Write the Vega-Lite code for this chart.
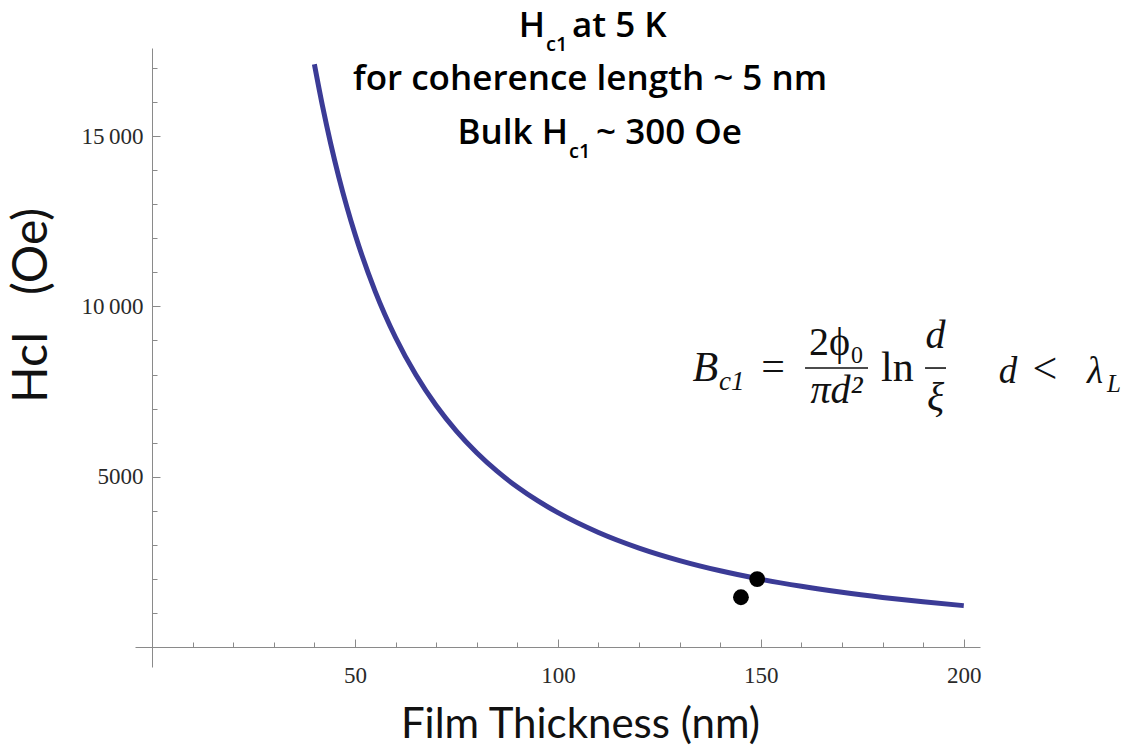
{
  "$schema": "https://vega.github.io/schema/vega-lite/v6.json",
  "width": 845,
  "height": 619,
  "autosize": {"type": "none"},
  "padding": {"left": 135, "top": 48, "right": 164, "bottom": 89},
  "background": "white",
  "data": {"values": [{}]},
  "config": {
    "view": {"stroke": null},
    "axis": {
      "grid": false,
      "domainColor": "#8a8a8a",
      "domainWidth": 1,
      "tickColor": "#8a8a8a",
      "tickWidth": 1,
      "labelFont": "Liberation Serif",
      "labelFontSize": 23,
      "labelColor": "#2a2a2a",
      "labelOverlap": false,
      "labelFlush": false,
      "titleFont": "Lato",
      "titleFontWeight": "normal",
      "titleColor": "#111111"
    }
  },
  "datasets": {
    "curve": [
      {"thickness_nm": 40, "hc1_oe": 17108},
      {"thickness_nm": 42, "hc1_oe": 15882},
      {"thickness_nm": 44, "hc1_oe": 14788},
      {"thickness_nm": 46, "hc1_oe": 13806},
      {"thickness_nm": 48, "hc1_oe": 12923},
      {"thickness_nm": 50, "hc1_oe": 12125},
      {"thickness_nm": 55, "hc1_oe": 10435},
      {"thickness_nm": 60, "hc1_oe": 9087},
      {"thickness_nm": 65, "hc1_oe": 7992},
      {"thickness_nm": 70, "hc1_oe": 7090},
      {"thickness_nm": 75, "hc1_oe": 6338},
      {"thickness_nm": 80, "hc1_oe": 5703},
      {"thickness_nm": 85, "hc1_oe": 5162},
      {"thickness_nm": 90, "hc1_oe": 4697},
      {"thickness_nm": 95, "hc1_oe": 4295},
      {"thickness_nm": 100, "hc1_oe": 3944},
      {"thickness_nm": 110, "hc1_oe": 3363},
      {"thickness_nm": 120, "hc1_oe": 2905},
      {"thickness_nm": 130, "hc1_oe": 2538},
      {"thickness_nm": 140, "hc1_oe": 2238},
      {"thickness_nm": 150, "hc1_oe": 1990},
      {"thickness_nm": 160, "hc1_oe": 1782},
      {"thickness_nm": 170, "hc1_oe": 1606},
      {"thickness_nm": 180, "hc1_oe": 1456},
      {"thickness_nm": 190, "hc1_oe": 1326},
      {"thickness_nm": 200, "hc1_oe": 1214}
    ],
    "measured": [
      {"thickness_nm": 145.1, "hc1_oe": 1460},
      {"thickness_nm": 149.1, "hc1_oe": 1995}
    ]
  },
  "resolve": {"axis": {"x": "independent", "y": "independent"}},
  "layer": [
    {
      "data": {"name": "curve"},
      "mark": {"type": "line", "color": "#3b3b96", "strokeWidth": 5, "interpolate": "monotone", "strokeCap": "butt"},
      "encoding": {
        "x": {
          "field": "thickness_nm",
          "type": "quantitative",
          "scale": {"domain": [-4.2, 204], "nice": false, "zero": false},
          "axis": {
            "title": "Film Thickness (nm)",
            "orient": "bottom",
            "offset": -20,
            "values": [50, 100, 150, 200],
            "tickSize": -8,
            "labelPadding": 25,
            "titleFontSize": 42,
            "titleX": 445,
            "titleY": 90,
            "titleAlign": "center",
            "titleBaseline": "alphabetic"
          }
        },
        "y": {
          "field": "hc1_oe",
          "type": "quantitative",
          "scale": {"domain": [-587, 17587], "nice": false, "zero": false},
          "axis": {
            "title": "HcI\u2003(Oe)",
            "orient": "left",
            "offset": -17,
            "values": [5000, 10000, 15000],
            "labelExpr": "datum.value === 5000 ? '5000' : datum.value === 10000 ? '10\u2009000' : '15\u2009000'",
            "tickSize": -8,
            "labelPadding": 17,
            "titleFontSize": 48,
            "titleX": -106,
            "titleY": 257,
            "titleAngle": -90,
            "titleAlign": "center",
            "titleBaseline": "alphabetic"
          }
        }
      }
    },
    {
      "data": {"name": "measured"},
      "mark": {"type": "point", "filled": true, "color": "#000000", "size": 250, "opacity": 1},
      "encoding": {
        "x": {
          "field": "thickness_nm",
          "type": "quantitative",
          "axis": {
            "title": null,
            "orient": "bottom",
            "offset": -20,
            "domain": false,
            "labels": false,
            "values": [10, 20, 30, 40, 60, 70, 80, 90, 110, 120, 130, 140, 160, 170, 180, 190],
            "tickSize": -5
          }
        },
        "y": {
          "field": "hc1_oe",
          "type": "quantitative",
          "axis": {
            "title": null,
            "orient": "left",
            "offset": -17,
            "domain": false,
            "labels": false,
            "values": [1000, 2000, 3000, 4000, 6000, 7000, 8000, 9000, 11000, 12000, 13000, 14000, 16000, 17000],
            "tickSize": -5
          }
        }
      }
    },
    {
      "mark": {"type": "text", "text": "H", "font": "Open Sans", "fontWeight": 600, "fontSize": 35, "align": "right", "baseline": "alphabetic", "color": "#000000"},
      "encoding": {"x": {"datum": 96.83, "type": "quantitative", "axis": null}, "y": {"datum": 17910, "type": "quantitative", "axis": null}}
    },
    {
      "mark": {"type": "text", "text": "c1", "font": "Open Sans", "fontWeight": 600, "fontSize": 20, "align": "left", "baseline": "alphabetic", "color": "#000000"},
      "encoding": {"x": {"datum": 97.08, "type": "quantitative", "axis": null}, "y": {"datum": 17499, "type": "quantitative", "axis": null}}
    },
    {
      "mark": {"type": "text", "text": "at 5 K", "font": "Open Sans", "fontWeight": 600, "fontSize": 35, "align": "left", "baseline": "alphabetic", "color": "#000000"},
      "encoding": {"x": {"datum": 103.48, "type": "quantitative", "axis": null}, "y": {"datum": 17910, "type": "quantitative", "axis": null}}
    },
    {
      "mark": {"type": "text", "text": "for coherence length ~ 5 nm", "font": "Open Sans", "fontWeight": 600, "fontSize": 35, "align": "center", "baseline": "alphabetic", "color": "#000000"},
      "encoding": {"x": {"datum": 107.92, "type": "quantitative", "axis": null}, "y": {"datum": 16354, "type": "quantitative", "axis": null}}
    },
    {
      "mark": {"type": "text", "text": "Bulk H", "font": "Open Sans", "fontWeight": 600, "fontSize": 35, "align": "right", "baseline": "alphabetic", "color": "#000000"},
      "encoding": {"x": {"datum": 102.5, "type": "quantitative", "axis": null}, "y": {"datum": 14768, "type": "quantitative", "axis": null}}
    },
    {
      "mark": {"type": "text", "text": "c1", "font": "Open Sans", "fontWeight": 600, "fontSize": 20, "align": "left", "baseline": "alphabetic", "color": "#000000"},
      "encoding": {"x": {"datum": 102.74, "type": "quantitative", "axis": null}, "y": {"datum": 14357, "type": "quantitative", "axis": null}}
    },
    {
      "mark": {"type": "text", "text": "~ 300 Oe", "font": "Open Sans", "fontWeight": 600, "fontSize": 35, "align": "left", "baseline": "alphabetic", "color": "#000000"},
      "encoding": {"x": {"datum": 109.4, "type": "quantitative", "axis": null}, "y": {"datum": 14768, "type": "quantitative", "axis": null}}
    },
    {
      "mark": {"type": "text", "text": "B", "font": "Liberation Serif", "fontStyle": "italic", "fontSize": 42, "align": "right", "baseline": "alphabetic", "color": "#111111"},
      "encoding": {"x": {"datum": 139.46, "type": "quantitative", "axis": null}, "y": {"datum": 7810, "type": "quantitative", "axis": null}}
    },
    {
      "mark": {"type": "text", "text": "c1", "font": "Liberation Serif", "fontStyle": "italic", "fontSize": 27, "align": "left", "baseline": "alphabetic", "color": "#111111"},
      "encoding": {"x": {"datum": 139.7, "type": "quantitative", "axis": null}, "y": {"datum": 7546, "type": "quantitative", "axis": null}}
    },
    {
      "mark": {"type": "text", "text": "=", "font": "Liberation Serif", "fontSize": 42, "align": "center", "baseline": "alphabetic", "color": "#111111"},
      "encoding": {"x": {"datum": 153.01, "type": "quantitative", "axis": null}, "y": {"datum": 7839, "type": "quantitative", "axis": null}}
    },
    {
      "mark": {"type": "text", "text": "2ϕ₀", "font": "Liberation Serif", "fontSize": 40, "align": "center", "baseline": "alphabetic", "color": "#111111"},
      "encoding": {"x": {"datum": 168.66, "type": "quantitative", "axis": null}, "y": {"datum": 8573, "type": "quantitative", "axis": null}}
    },
    {
      "mark": {"type": "rule", "color": "#111111", "strokeWidth": 1.6},
      "encoding": {
        "x": {"datum": 160.89, "type": "quantitative", "axis": null},
        "x2": {"datum": 176.41},
        "y": {"datum": 8191, "type": "quantitative", "axis": null}
      }
    },
    {
      "mark": {"type": "text", "text": "πd²", "font": "Liberation Serif", "fontStyle": "italic", "fontSize": 40, "align": "center", "baseline": "alphabetic", "color": "#111111"},
      "encoding": {"x": {"datum": 168.66, "type": "quantitative", "axis": null}, "y": {"datum": 7164, "type": "quantitative", "axis": null}}
    },
    {
      "mark": {"type": "text", "text": "ln", "font": "Liberation Serif", "fontSize": 42, "align": "left", "baseline": "alphabetic", "color": "#111111"},
      "encoding": {"x": {"datum": 179.62, "type": "quantitative", "axis": null}, "y": {"datum": 7810, "type": "quantitative", "axis": null}}
    },
    {
      "mark": {"type": "text", "text": "d", "font": "Liberation Serif", "fontStyle": "italic", "fontSize": 40, "align": "center", "baseline": "alphabetic", "color": "#111111"},
      "encoding": {"x": {"datum": 193.05, "type": "quantitative", "axis": null}, "y": {"datum": 8779, "type": "quantitative", "axis": null}}
    },
    {
      "mark": {"type": "rule", "color": "#111111", "strokeWidth": 1.6},
      "encoding": {
        "x": {"datum": 190.46, "type": "quantitative", "axis": null},
        "x2": {"datum": 195.63},
        "y": {"datum": 8191, "type": "quantitative", "axis": null}
      }
    },
    {
      "mark": {"type": "text", "text": "ξ", "font": "Liberation Serif", "fontStyle": "italic", "fontSize": 40, "align": "center", "baseline": "alphabetic", "color": "#111111"},
      "encoding": {"x": {"datum": 193.05, "type": "quantitative", "axis": null}, "y": {"datum": 6958, "type": "quantitative", "axis": null}}
    },
    {
      "mark": {"type": "text", "text": "d", "font": "Liberation Serif", "fontStyle": "italic", "fontSize": 37, "align": "center", "baseline": "alphabetic", "color": "#111111"},
      "encoding": {"x": {"datum": 210.91, "type": "quantitative", "axis": null}, "y": {"datum": 7751, "type": "quantitative", "axis": null}}
    },
    {
      "mark": {"type": "text", "text": "<", "font": "Liberation Serif", "fontSize": 44, "align": "center", "baseline": "alphabetic", "color": "#111111"},
      "encoding": {"x": {"datum": 220.02, "type": "quantitative", "axis": null}, "y": {"datum": 7751, "type": "quantitative", "axis": null}}
    },
    {
      "mark": {"type": "text", "text": "λ", "font": "Liberation Serif", "fontStyle": "italic", "fontSize": 37, "align": "center", "baseline": "alphabetic", "color": "#111111"},
      "encoding": {"x": {"datum": 232.35, "type": "quantitative", "axis": null}, "y": {"datum": 7751, "type": "quantitative", "axis": null}}
    },
    {
      "mark": {"type": "text", "text": "L", "font": "Liberation Serif", "fontStyle": "italic", "fontSize": 25, "align": "left", "baseline": "alphabetic", "color": "#111111"},
      "encoding": {"x": {"datum": 235.3, "type": "quantitative", "axis": null}, "y": {"datum": 7487, "type": "quantitative", "axis": null}}
    }
  ]
}
